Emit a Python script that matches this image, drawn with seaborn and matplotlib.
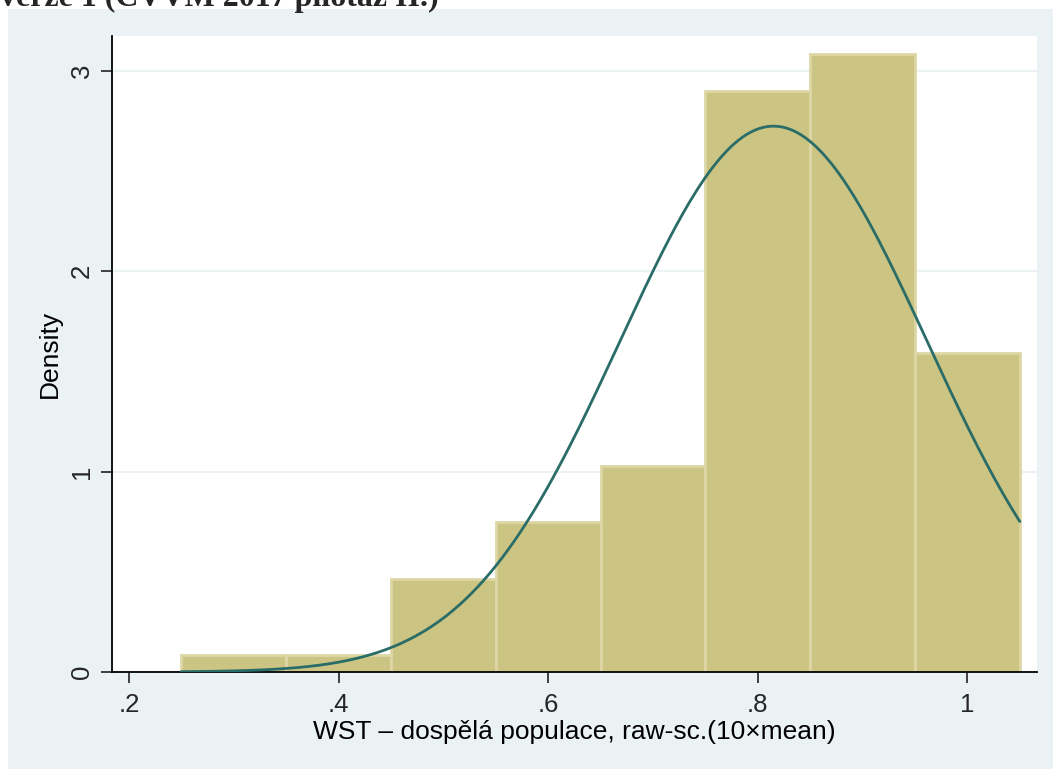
import numpy as np
import pandas as pd
import seaborn as sns
import matplotlib.pyplot as plt
from matplotlib.patches import Rectangle

# Histogram bins (raw score scaled as 10 x mean) and their densities
bin_edges = [0.25, 0.35, 0.45, 0.55, 0.65, 0.75, 0.85, 0.95, 1.05]
bin_density = [0.085, 0.085, 0.465, 0.75, 1.03, 2.90, 3.085, 1.59]

# Normal density overlay parameters
norm_mean = 0.815
norm_sd = 0.1464

x_ticks = [0.2, 0.4, 0.6, 0.8, 1.0]
x_tick_labels = [".2", ".4", ".6", ".8", "1"]
y_ticks = [0, 1, 2, 3]
y_tick_labels = ["0", "1", "2", "3"]

title_text = "verze 1 (CVVM 2017 pilotáž II.)"
x_label = "WST – dospělá populace, raw-sc.(10×mean)"
y_label = "Density"

BG = "#EAF2F3"
BAR = "#CCC482"
BAR_EDGE = "#DDD7A6"
CURVE = "#2A6C67"

sns.set_theme(style="white")
plt.rcParams["font.family"] = ["Liberation Sans", "DejaVu Sans"]

W, H = 1053, 769
fig = plt.figure(figsize=(W / 100, H / 100), dpi=100, facecolor="white")

# light graph-region background
fig.patches.append(Rectangle((8 / W, 0), 1 - 8 / W, 1 - 9 / H, transform=fig.transFigure,
                             facecolor=BG, edgecolor="none", zorder=-5))

left, right, top, bottom = 112, 1037, 36, 672
ax = fig.add_axes([left / W, 1 - bottom / H, (right - left) / W, (bottom - top) / H])
ax.set_zorder(2)
ax.set_facecolor("white")

centers = [(a + b) / 2 for a, b in zip(bin_edges[:-1], bin_edges[1:])]
hist_df = pd.DataFrame({"x": centers, "w": bin_density})
sns.histplot(data=hist_df, x="x", weights="w", bins=bin_edges, stat="count",
             color=BAR, alpha=1, edgecolor=BAR_EDGE, linewidth=2, ax=ax, zorder=2)

xs = np.linspace(bin_edges[0], bin_edges[-1], 400)
ys = np.exp(-0.5 * ((xs - norm_mean) / norm_sd) ** 2) / (norm_sd * np.sqrt(2 * np.pi))
sns.lineplot(x=xs, y=ys, color=CURVE, linewidth=2, ax=ax, zorder=3)

ax.set_xlim(0.1838, 1.0664)
ax.set_ylim(0, 3.175)

for yv in y_ticks[1:]:
    ax.axhline(yv, color=BG, linewidth=1.5, zorder=1)

ax.set_xticks(x_ticks)
ax.set_xticklabels(x_tick_labels, fontsize=18.5)
ax.set_yticks(y_ticks)
ax.set_yticklabels(y_tick_labels, fontsize=18.5, rotation=90, va="center")
ax.tick_params(axis="both", direction="out", length=8, width=1.2, color="#222222",
               bottom=True, left=True)
ax.tick_params(axis="x", pad=7)
ax.tick_params(axis="y", pad=5)

for side in ["top", "right"]:
    ax.spines[side].set_visible(False)
for side in ["left", "bottom"]:
    ax.spines[side].set_color("black")
    ax.spines[side].set_linewidth(1.3)

ax.set_xlabel(x_label, fontsize=19, color="black", labelpad=2)
ax.set_ylabel(y_label, fontsize=19, color="black", labelpad=6)
ax.grid(False)

fig.text(0.0, 1 - 6 / H, title_text, fontsize=23, fontweight="bold",
         family=["Liberation Serif", "DejaVu Serif"], va="baseline", ha="left")

fig.savefig("out.png", dpi=100, facecolor="white")
